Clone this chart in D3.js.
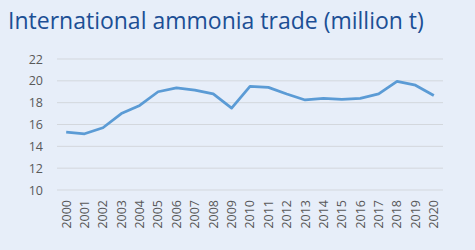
<!DOCTYPE html>
<html>
<head>
<meta charset="utf-8">
<script src="https://cdn.jsdelivr.net/npm/d3@7"></script>
<style>
  body { margin: 0; background: #e7eef9; }
  svg { display: block; }
</style>
</head>
<body>
<svg id="chart"></svg>
<script>
var years = ['2000','2001','2002','2003','2004','2005','2006','2007','2008','2009','2010',
  '2011','2012','2013','2014','2015','2016','2017','2018','2019','2020'];
var trade = [15.3, 15.15, 15.7, 17.0, 17.75, 19.0, 19.35, 19.15, 18.8, 17.5, 19.5,
  19.4, 18.8, 18.25, 18.4, 18.3, 18.4, 18.8, 19.95, 19.6, 18.65];
var yTicks = [10, 12, 14, 16, 18, 20, 22];

var width = 475, height = 250;
var svg = d3.select('#chart')
  .attr('width', width)
  .attr('height', height);

svg.append('rect')
  .attr('width', width)
  .attr('height', height)
  .attr('fill', '#e7eef9');

svg.append('text')
  .attr('x', 8)
  .attr('y', 29)
  .attr('fill', '#1c4f95')
  .style('font-family', 'Open Sans, sans-serif')
  .style('font-size', '23px')
  .text('International ammonia trade (million t)');

var plotLeft = 57, plotRight = 443, plotTop = 59, plotBottom = 190;

var x = d3.scaleBand().domain(years).range([plotLeft, plotRight]);
var y = d3.scaleLinear().domain([10, 22]).range([plotBottom, plotTop]);

// grid lines
svg.selectAll('line.grid')
  .data(yTicks)
  .enter()
  .append('line')
  .attr('class', 'grid')
  .attr('x1', plotLeft)
  .attr('x2', plotRight)
  .attr('y1', function(d) { return y(d); })
  .attr('y2', function(d) { return y(d); })
  .attr('stroke', '#d3d7dd')
  .attr('stroke-width', 1);

var yAxis = svg.append('g')
  .attr('transform', 'translate(' + plotLeft + ',0)')
  .call(d3.axisLeft(y).tickValues(yTicks).tickSize(0).tickPadding(14));
yAxis.select('.domain').remove();
yAxis.selectAll('text')
  .attr('fill', '#595959')
  .style('font-family', 'Open Sans, sans-serif')
  .style('font-size', '12.5px');

var xAxis = svg.append('g')
  .attr('transform', 'translate(0,' + plotBottom + ')')
  .call(d3.axisBottom(x).tickSize(0));
xAxis.select('.domain').remove();
xAxis.selectAll('text')
  .attr('fill', '#595959')
  .style('font-family', 'Open Sans, sans-serif')
  .style('font-size', '12.5px')
  .attr('text-anchor', 'end')
  .attr('transform', 'rotate(-90)')
  .attr('x', -10)
  .attr('y', 0)
  .attr('dy', '0.35em');

var line = d3.line()
  .x(function(d, i) { return x(years[i]) + x.bandwidth() / 2; })
  .y(function(d) { return y(d); });

svg.append('path')
  .datum(trade)
  .attr('d', line)
  .attr('fill', 'none')
  .attr('stroke', '#5b9bd5')
  .attr('stroke-width', 2.75)
  .attr('stroke-linejoin', 'round');
</script>
</body>
</html>
